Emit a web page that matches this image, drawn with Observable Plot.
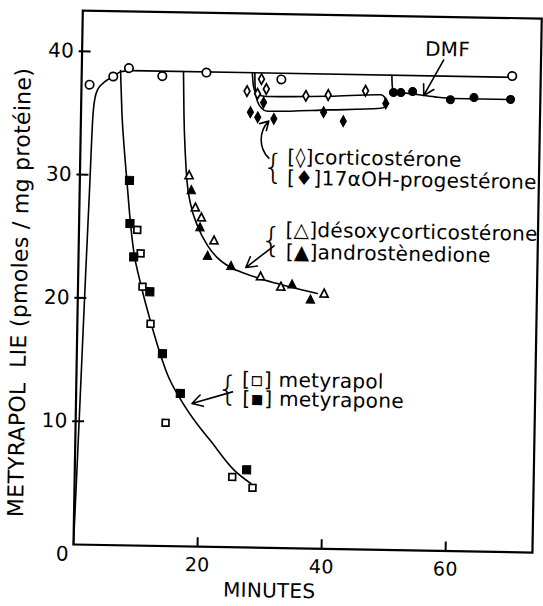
<!DOCTYPE html>
<html><head><meta charset="utf-8">
<script src="https://cdn.jsdelivr.net/npm/d3@7"></script>
<script src="https://cdn.jsdelivr.net/npm/@observablehq/plot@0.6"></script>
<style>
html,body{margin:0;padding:0;background:#fff;overflow:hidden;}
svg text{letter-spacing:0.3px;}
</style></head><body><div id="chart"></div>
<script>
// ---- axis ticks & titles
const xTicks = [20, 40, 60];
const yTicks = [10, 20, 30, 40];
const originLabel = "0";
const xTitle = "MINUTES";
const yTitle = "METYRAPOL\u00a0 LIE (pmoles / mg protéine)";

// ---- measured points (minutes, pmoles/mg)
const controlT = [1.3, 5.1, 7.6, 13.0, 20.1, 32.2, 69.4];
const controlV = [37.3, 38.0, 38.7, 38.1, 38.45, 38.0, 38.6];
const dmfT = [50.3, 51.5, 53.4, 59.5, 63.3, 69.2];
const dmfV = [37.1, 37.1, 37.2, 36.6, 36.8, 36.7];
const corticoT = [26.7, 28.4, 29.0, 29.8, 36.2, 39.8, 45.8];
const corticoV = [37.0, 36.8, 38.0, 37.2, 36.7, 36.8, 37.2];
const progT = [27.3, 28.5, 29.4, 31.1, 39.1, 42.3, 49.1];
const progV = [35.3, 34.9, 36.1, 34.8, 35.4, 34.7, 36.2];
const desoxyT = [17.6, 18.7, 19.7, 21.8, 29.4, 32.7, 39.7];
const desoxyV = [30.1, 27.5, 26.7, 24.85, 22.0, 21.2, 20.7];
const androT = [18.0, 19.5, 20.8, 24.6, 34.5, 37.5];
const androV = [28.9, 25.9, 23.6, 22.8, 21.4, 20.2];
const metyrapolT = [9.4, 10.0, 10.4, 11.8, 14.5, 25.4, 28.7];
const metyrapolV = [25.6, 23.7, 21.0, 18.0, 10.0, 5.7, 4.85];
const metyraponeT = [8.0, 8.2, 8.9, 11.6, 13.8, 16.8, 27.7];
const metyraponeV = [29.6, 26.1, 23.4, 20.6, 15.6, 12.4, 6.3];

// ---- hand-drawn fitted curves
const controlCurveT = [0, 0.4, 0.8, 1.2, 1.6, 1.9, 2.2, 2.6, 3.6, 5.1, 6.3, 8, 69.4];
const controlCurveV = [0, 7, 14.5, 22, 29, 34.5, 36.2, 36.9, 37.5, 38.0, 38.4, 38.5, 38.5];
const metyrapolCurveT = [6.25, 6.6, 7.1, 7.6, 8.2, 8.9, 9.9, 11.2, 12.9, 14.6, 17.0, 19.5, 21.8, 25.6, 28.4];
const metyrapolCurveV = [38.5, 35, 32, 29.5, 26.5, 23.8, 21.6, 19.2, 16.4, 14.0, 11.8, 10.0, 8.6, 6.3, 5.2];
const desoxyCurveT = [16.4, 16.6, 16.9, 17.3, 17.9, 19.1, 20.8, 22.5, 24.5, 27, 29.5, 32.5, 35.4, 38.6];
const desoxyCurveV = [38.5, 35, 32, 29.5, 27.8, 26.0, 24.4, 23.4, 22.7, 22.2, 21.8, 21.4, 21.05, 20.7];
const corticoCurveT = [27.5, 27.7, 28.1, 29, 30, 40, 48.3, 48.9, 49.1];
const corticoCurveV = [38.5, 37.5, 36.9, 36.65, 36.6, 36.7, 36.9, 36.7, 36.2];
const progCurveT = [27.9, 28.0, 28.4, 29.2, 30, 40, 48.3, 48.9, 49.1];
const progCurveV = [38.5, 37.3, 36.2, 35.6, 35.4, 35.6, 35.8, 35.9, 36.2];
const dmfCurveT = [50.0, 50.1, 50.4, 51.5, 53.5, 57, 60, 69.4];
const dmfCurveV = [38.5, 37.6, 37.15, 37.1, 37.0, 36.8, 36.7, 36.7];

// ---- annotations (anchor in data units)
const labelTexts = ["[◊]corticostérone", "[♦]17αOH-progestérone", "[△]désoxycorticostérone", "[▲]androstènedione", "[▫] metyrapol", "[▪] metyrapone"];
const labelT = [33.4, 33.4, 33.3, 33.4, 26.7, 26.8];
const labelV = [31.7, 30.0, 25.8, 24.0, 13.6, 12.05];
const braceT = [33.4, 33.3, 26.7];
const braceV = [30.85, 24.9, 12.8];
const dmfLabel = "DMF";
const dmfLabelT = 58.9, dmfLabelV = 40.65;
const arrowFromT = [58.3, 31.5, 25.2];
const arrowFromV = [39.8, 24.5, 12.6];
const arrowToT = [55.2, 27.0, 18.7];
const arrowToV = [36.9, 22.7, 11.6];
const bentArrowFrom = [30.4, 31.6];
const bentArrowTo = [30.3, 34.6];

const zip = (T, V) => T.map((t, i) => ({t, v: V[i]}));

const lozenge = {draw(ctx, size) { const r = Math.sqrt(size / Math.PI);
  ctx.moveTo(0, -1.3 * r); ctx.lineTo(0.72 * r, 0); ctx.lineTo(0, 1.3 * r); ctx.lineTo(-0.72 * r, 0); ctx.closePath(); }};
const tri = {draw(ctx, size) { const r = Math.sqrt(size / Math.PI);
  ctx.moveTo(0, -1.1 * r); ctx.lineTo(1.0 * r, 0.85 * r); ctx.lineTo(-1.0 * r, 0.85 * r); ctx.closePath(); }};

const lineOpts = {x: "t", y: "v", curve: "monotone-x", stroke: "black", strokeWidth: 1.6};
const openDot = {x: "t", y: "v", fill: "white", stroke: "black", strokeWidth: 1.7};
const fullDot = {x: "t", y: "v", fill: "black", stroke: "black", strokeWidth: 1};

const labels = labelTexts.map((s, i) => ({s, t: labelT[i], v: labelV[i]}));
const braces = braceT.map((t, i) => ({t, v: braceV[i]}));
const arrows = arrowFromT.map((t, i) => ({x1: t, y1: arrowFromV[i], x2: arrowToT[i], y2: arrowToV[i]}));

const svg = Plot.plot({
  width: 543, height: 606,
  marginLeft: 73, marginRight: 11, marginTop: 10, marginBottom: 62,
  x: {domain: [0, 74]},
  y: {domain: [0, 43.3]},
  style: {fontFamily: "DejaVu Sans, sans-serif", fontSize: "20px", color: "black", background: "white", overflow: "visible"},
  marks: [
    Plot.frame({stroke: "black", strokeWidth: 2.2}),
    Plot.axisY({ticks: yTicks, tickSize: 0, tickPadding: 8, label: null, fontSize: 20}),
    Plot.axisY({ticks: yTicks, tickSize: 12, dx: 9, tickFormat: () => "", label: null, strokeWidth: 2}),
    Plot.axisX({ticks: xTicks, tickSize: 0, tickPadding: 11, label: null, fontSize: 19}),
    Plot.axisX({ticks: xTicks, tickSize: 9, dy: -9, tickFormat: () => "", label: null, strokeWidth: 2}),
    Plot.text([originLabel], {x: 0, y: 0, text: d => d, dx: -11, dy: 10, fontSize: 20}),
    Plot.text([yTitle], {frameAnchor: "left", text: d => d, rotate: -90, textAnchor: "middle", lineAnchor: "middle", dx: -58, dy: 16, fontSize: 22}),
    Plot.text([xTitle], {frameAnchor: "bottom", text: d => d, textAnchor: "middle", lineAnchor: "middle", dx: -33, dy: 43, fontSize: 20}),

    Plot.line(zip(controlCurveT, controlCurveV), lineOpts),
    Plot.line(zip(metyrapolCurveT, metyrapolCurveV), lineOpts),
    Plot.line(zip(desoxyCurveT, desoxyCurveV), lineOpts),
    Plot.line(zip(corticoCurveT, corticoCurveV), lineOpts),
    Plot.line(zip(progCurveT, progCurveV), lineOpts),
    Plot.line(zip(dmfCurveT, dmfCurveV), lineOpts),

    Plot.dot(zip(controlT, controlV), {...openDot, r: 4.2}),
    Plot.dot(zip(dmfT, dmfV), {...fullDot, r: 4}),
    Plot.dot(zip(corticoT, corticoV), {...openDot, r: 4, symbol: lozenge}),
    Plot.dot(zip(progT, progV), {...fullDot, r: 4.3, symbol: lozenge}),
    Plot.dot(zip(desoxyT, desoxyV), {...openDot, r: 4, symbol: tri}),
    Plot.dot(zip(androT, androV), {...fullDot, r: 4.3, symbol: tri}),
    Plot.dot(zip(metyrapolT, metyrapolV), {...openDot, r: 3.8, symbol: "square"}),
    Plot.dot(zip(metyraponeT, metyraponeV), {...fullDot, r: 4.6, symbol: "square"}),

    Plot.text(labels, {x: "t", y: "v", text: "s", textAnchor: "start", lineAnchor: "middle", fontSize: 20}),
    Plot.text(braces, {x: "t", y: "v", text: () => "{", textAnchor: "end", lineAnchor: "middle", dx: -3, fontSize: 34, fontWeight: 200}),
    Plot.text([dmfLabel], {x: () => dmfLabelT, y: () => dmfLabelV, text: d => d, fontSize: 20}),
    Plot.arrow(arrows, {x1: "x1", y1: "y1", x2: "x2", y2: "y2", stroke: "black", strokeWidth: 1.6, headLength: 11}),
    Plot.arrow([{x1: bentArrowFrom[0], y1: bentArrowFrom[1], x2: bentArrowTo[0], y2: bentArrowTo[1]}], {x1: "x1", y1: "y1", x2: "x2", y2: "y2", bend: 45, stroke: "black", strokeWidth: 1.6, headLength: 9})
  ]
});
svg.style.transform = "rotate(1deg)";
svg.style.transformOrigin = "73px 544px";
document.getElementById("chart").appendChild(svg);
</script></body></html>
